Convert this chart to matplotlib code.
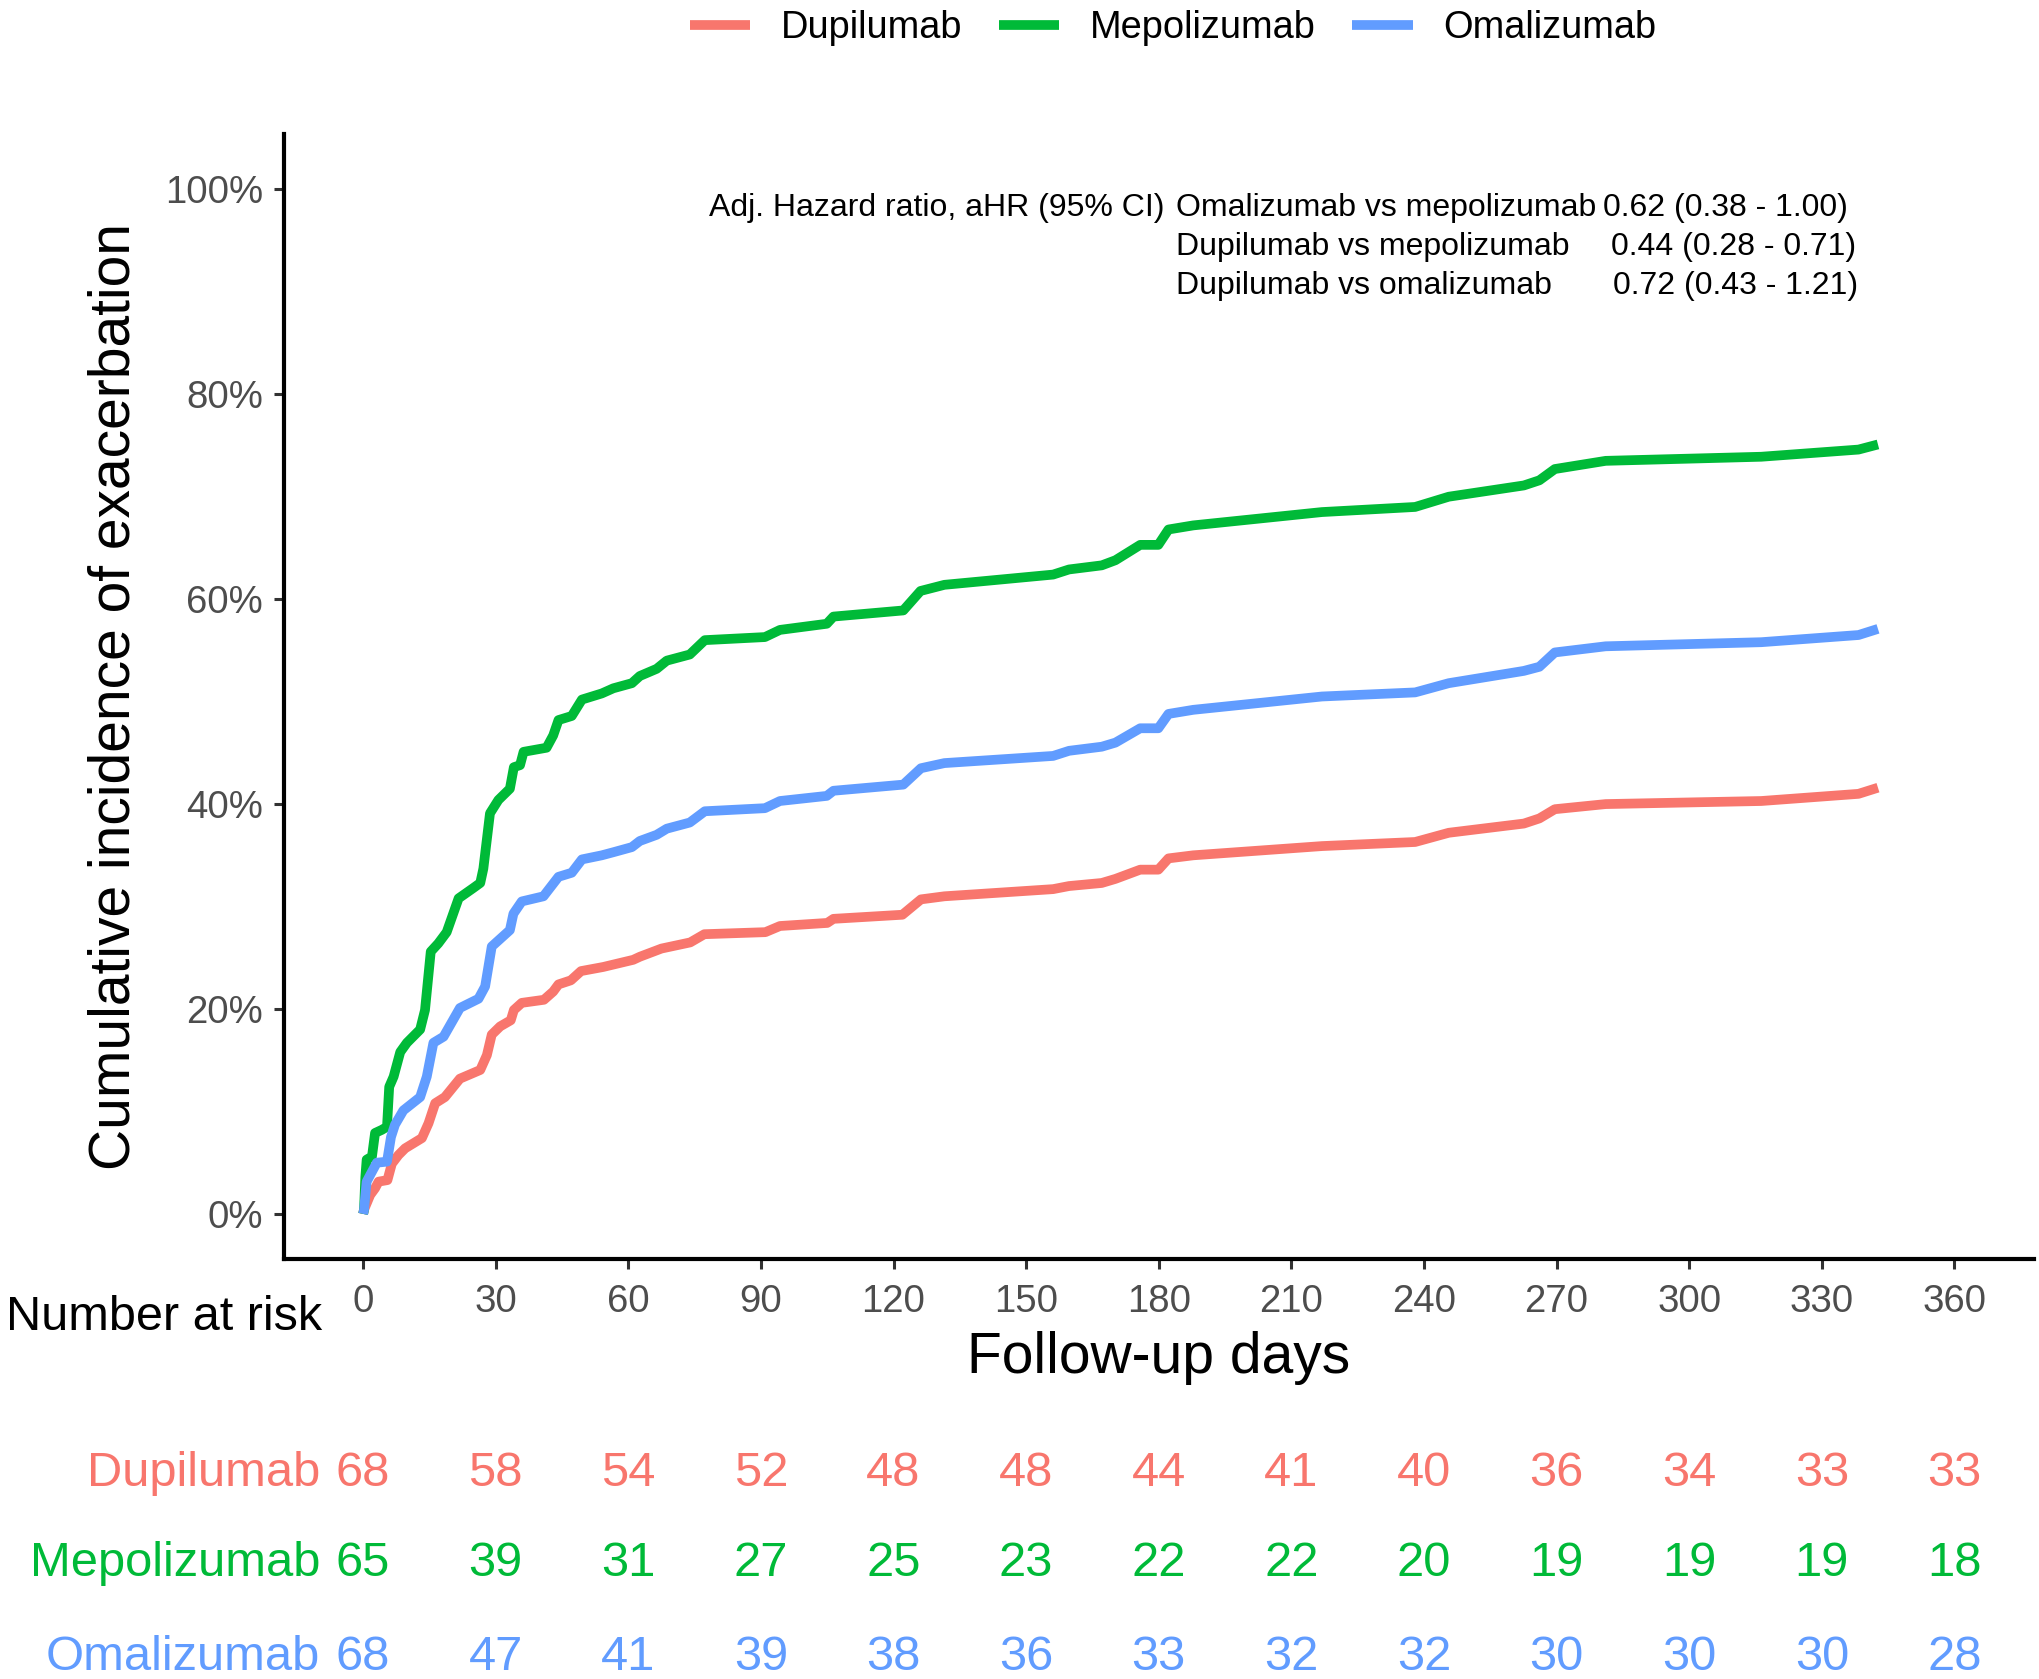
import matplotlib
matplotlib.use("Agg")
import matplotlib.pyplot as plt
import matplotlib.transforms as mtransforms
from matplotlib.ticker import PercentFormatter

plt.rcParams['font.family'] = ['Liberation Sans', 'DejaVu Sans']

# curve data (days, cumulative incidence in %)
dupi_t = [0, 0.2, 1.6, 2.7, 3.5, 5.5, 6.5, 8.0, 9.5, 13.3, 14.8, 16.3, 18.5, 21.9, 26.5, 28,
          29.1, 31, 33.4, 34.1, 35.9, 40.9, 43, 44.2, 47, 49.3, 54.3, 61.1, 62.6, 67.5, 74,
          77.2, 91, 94.3, 105, 106.4, 122, 126.2, 131.5, 156.1, 159.7, 167.1, 170.2, 175.8,
          179.9, 182.2, 187.8, 216.9, 238, 245.6, 262.6, 266.1, 269.6, 281.1, 316.3, 338.3, 342.7]
dupi_y = [0, 0.4, 1.85, 2.5, 3.15, 3.3, 4.9, 5.75, 6.4, 7.4, 8.85, 10.8, 11.4, 13.2, 14.05, 15.5,
          17.5, 18.3, 18.9, 19.9, 20.6, 20.9, 21.7, 22.4, 22.8, 23.7, 24.1, 24.8, 25.1, 25.9, 26.5,
          27.3, 27.5, 28.1, 28.4, 28.8, 29.2, 30.7, 31.0, 31.7, 32.0, 32.3, 32.7, 33.6,
          33.6, 34.7, 35.0, 35.9, 36.3, 37.2, 38.1, 38.6, 39.5, 40.0, 40.3, 41.0, 41.6]

mepo_t = [0, 0.2, 0.5, 0.8, 2.0, 2.7, 4.2, 5.4, 5.9, 6.9, 8.4, 9.9, 12.9, 14.0, 15.3, 17.0, 18.9,
          21.6, 24.9, 26.5, 27.2, 28.7, 30.6, 33.2, 34.1, 35.5, 36.3, 41.5, 43, 44.2, 47.2, 49.5,
          54, 56.6, 60.8, 62.6, 66.4, 68.7, 73.9, 77.3, 90.9, 94.3, 104.9, 106.4, 122.2, 126.1,
          131.5, 156.1, 159.7, 167.1, 170.2, 175.8, 179.9, 182.2, 187.8, 216.9, 238, 245.6,
          262.6, 266.1, 269.6, 281.1, 316.3, 338.3, 342.7]
mepo_y = [0, 0.4, 3.6, 5.3, 5.6, 7.9, 8.2, 8.5, 12.4, 13.4, 15.8, 16.7, 18.0, 19.9, 25.6, 26.4, 27.5,
          30.8, 31.8, 32.3, 33.7, 39.1, 40.4, 41.5, 43.6, 43.8, 45.1, 45.5, 46.7, 48.2, 48.6, 50.2,
          50.8, 51.3, 51.8, 52.5, 53.2, 54.0, 54.6, 56.0, 56.3, 57.0, 57.6, 58.3, 58.9, 60.8,
          61.4, 62.4, 62.9, 63.3, 63.8, 65.3, 65.3, 66.8, 67.2, 68.5, 69.0, 70.0,
          71.1, 71.6, 72.7, 73.5, 73.9, 74.6, 75.1]

omal_t = [0, 0.2, 0.8, 1.6, 3.1, 5.4, 6.3, 7.2, 9.1, 12.9, 14.4, 15.9, 18.2, 21.9, 26.1, 27.6, 29.1,
          33.2, 34.0, 35.9, 40.8, 44.2, 47.2, 49.5, 54, 56.6, 60.8, 62.6, 66.4, 68.7, 73.9, 77.3,
          90.9, 94.3, 104.9, 106.4, 122.2, 126.2, 131.5, 156.1, 159.7, 167.1, 170.2, 175.8, 179.9,
          182.2, 187.8, 216.9, 238, 245.6, 262.6, 266.1, 269.6, 281.1, 316.3, 338.3, 342.7]
omal_y = [0, 0.4, 3.15, 3.8, 5.0, 5.1, 7.5, 8.7, 10.1, 11.4, 13.4, 16.7, 17.3, 20.1, 21.0, 22.2, 26.1,
          27.7, 29.3, 30.5, 31.0, 32.9, 33.3, 34.6, 35.0, 35.3, 35.8, 36.4, 37.0, 37.6, 38.2, 39.3,
          39.6, 40.3, 40.8, 41.3, 41.9, 43.5, 44.0, 44.7, 45.2, 45.6, 46.0, 47.4, 47.4,
          48.8, 49.2, 50.5, 50.9, 51.8, 53.0, 53.4, 54.8, 55.4, 55.8, 56.5, 57.1]

# number at risk table
risk_days = [0, 30, 60, 90, 120, 150, 180, 210, 240, 270, 300, 330, 360]
dupi_risk = [68, 58, 54, 52, 48, 48, 44, 41, 40, 36, 34, 33, 33]
mepo_risk = [65, 39, 31, 27, 25, 23, 22, 22, 20, 19, 19, 19, 18]
omal_risk = [68, 47, 41, 39, 38, 36, 33, 32, 32, 30, 30, 30, 28]

groups = ['Dupilumab', 'Mepolizumab', 'Omalizumab']
colors = ['#F8766D', '#00BA38', '#619CFF']

hr_labels = ['Omalizumab vs mepolizumab', 'Dupilumab vs mepolizumab', 'Dupilumab vs omalizumab']
hr_values = ['0.62 (0.38 - 1.00)', '0.44 (0.28 - 0.71)', '0.72 (0.43 - 1.21)']

W, H = 2040, 1679
fig = plt.figure(figsize=(W / 200, H / 200), dpi=200)
ax = fig.add_axes([284 / W, 1 - 1259 / H, (2034 - 284) / W, (1259 - 134) / H])

curves = [(dupi_t, dupi_y), (mepo_t, mepo_y), (omal_t, omal_y)]
for (t, y), name, c in zip(curves, groups, colors):
    ax.plot(t, y, color=c, lw=3.5, label=name, solid_joinstyle='round', solid_capstyle='butt')

ax.set_xlim(-17.9, 378)
ax.set_ylim(-4.4, 105.4)
ax.set_xticks(risk_days)
ax.set_yticks([0, 20, 40, 60, 80, 100])
ax.yaxis.set_major_formatter(PercentFormatter(decimals=0))

for side in ['top', 'right']:
    ax.spines[side].set_visible(False)
for side in ['left', 'bottom']:
    ax.spines[side].set_linewidth(1.5)
    ax.spines[side].set_color('black')
ax.tick_params(length=3.6, width=1.1, color='#333333', labelsize=13.8, labelcolor='#4D4D4D')
ax.tick_params(axis='x', pad=5.5)
ax.tick_params(axis='y', pad=4)

ax.set_xlabel('Follow-up days', fontsize=20.5, color='black', labelpad=4)
ax.set_ylabel('Cumulative incidence of exacerbation', fontsize=20.5, color='black', labelpad=8.5)

# hazard ratio annotation
ax.text(78.3, 98.2, 'Adj. Hazard ratio, aHR (95% CI)', fontsize=11.5, va='center', ha='left')
hr_x = [280.5, 282.2, 282.8]
hr_y = [98.2, 94.4, 90.6]
for lab, val, xv, yv in zip(hr_labels, hr_values, hr_x, hr_y):
    ax.text(184.0, yv, lab, fontsize=11.5, va='center', ha='left')
    ax.text(xv, yv, val, fontsize=11.5, va='center', ha='left')

# legend
fig.legend(loc='center', bbox_to_anchor=(1173 / W, 1 - 28 / H), ncol=3, frameon=False,
           fontsize=13.7, handlelength=1.6, handletextpad=0.8, columnspacing=0.95)
for lh in fig.legends[0].get_lines():
    lh.set_linewidth(3.5)

# risk table
trans = mtransforms.blended_transform_factory(ax.transData, fig.transFigure)
fig.text(6 / W, 1 - 1317 / H, 'Number at risk', fontsize=17.5, va='center', ha='left')
rows_y = [1473, 1564, 1657]
for name, c, risk, ry in zip(groups, colors, [dupi_risk, mepo_risk, omal_risk], rows_y):
    yy = 1 - ry / H
    ax.text(-9.7, yy, name, transform=trans, color=c, fontsize=17.6, va='center', ha='right',
            clip_on=False)
    for d, n in zip(risk_days, risk):
        ax.text(d, yy, str(n), transform=trans, color=c, fontsize=17.6, va='center', ha='center',
                clip_on=False)

fig.savefig('out.png', dpi=200, facecolor='white')
